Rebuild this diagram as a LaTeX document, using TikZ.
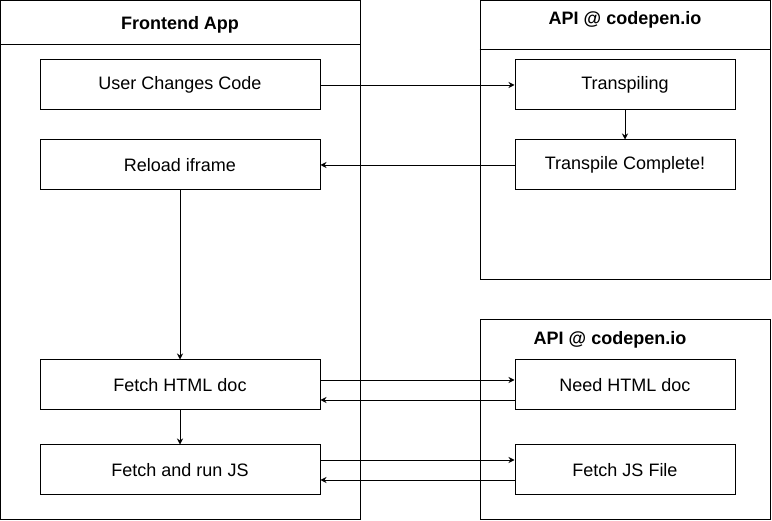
\documentclass[tikz,border=0pt]{standalone}
\usepackage{fontspec}
\setmainfont{Liberation Sans}
\usetikzlibrary{arrows.meta}

\begin{document}
\begin{tikzpicture}[x=1pt,y=-1pt,line width=1pt]
                \useasboundingbox (0,0) rectangle (772,521);

                % containers
                \begin{scope}[every node/.style = {rectangle, draw, line width=1pt, inner sep=0pt}]
                    \node[minimum width=359.5pt, minimum height=519.5pt] (front) at (180.25, 260.25) {};
                    \node[minimum width=290pt, minimum height=279.5pt] (apitop) at (625, 140.25) {};
                    \node[minimum width=290pt, minimum height=200pt] (apibot) at (625, 420) {};
                \end{scope}
                \draw (front.west |- 0,45) -- (front.east |- 0,45);
                \draw (apitop.west |- 0,50) -- (apitop.east |- 0,50);

                \begin{scope}[every node/.style = {font=\fontsize{18}{20}\selectfont\bfseries}]
                    \node (fronttitle) at (180, 25) {Frontend App};
                    \node (apititle1) at (625, 20) {API @ codepen.io};
                    \node (apititle2) at (610, 340) {API @ codepen.io};
                \end{scope}

                % steps
                \begin{scope}[every node/.style = {rectangle, draw, line width=1pt, fill=white,
                                minimum height=50pt, font=\fontsize{18}{20}\selectfont}]
                    \node[minimum width=280pt] (user)   at (180, 85)  {User Changes Code};
                    \node[minimum width=280pt] (reload) at (180, 165) {Reload iframe};
                    \node[minimum width=280pt] (fhtml)  at (180, 385) {Fetch HTML doc};
                    \node[minimum width=280pt] (fjs)    at (180, 470) {Fetch and run JS};

                    \node[minimum width=220pt] (transp) at (625, 85)  {Transpiling};
                    \node[minimum width=220pt] (tdone)  at (625, 165) {Transpile Complete!};
                    \node[minimum width=220pt] (nhtml)  at (625, 385) {Need HTML doc};
                    \node[minimum width=220pt] (jsfile) at (625, 470) {Fetch JS File};
                \end{scope}

                \begin{scope}[>={Stealth[length=6pt,width=6pt]},
                                every edge/.style={draw,line width=0.8pt}]
                     \path [->] (user) edge (transp);
                     \path [->] (transp) edge (tdone);
                     \path [->] (tdone) edge (reload);
                     \path [->] (reload) edge (fhtml);
                     \path [->] (fhtml) edge (fjs);

                     \path [->] ([yshift=5pt]fhtml.east) edge ([yshift=5pt]nhtml.west);
                     \path [->] ([yshift=-15pt]nhtml.west) edge ([yshift=-15pt]fhtml.east);

                     \path [->] ([yshift=10pt]fjs.east) edge ([yshift=10pt]jsfile.west);
                     \path [->] ([yshift=-10pt]jsfile.west) edge ([yshift=-10pt]fjs.east);
                \end{scope}
            \end{tikzpicture}
\end{document}
